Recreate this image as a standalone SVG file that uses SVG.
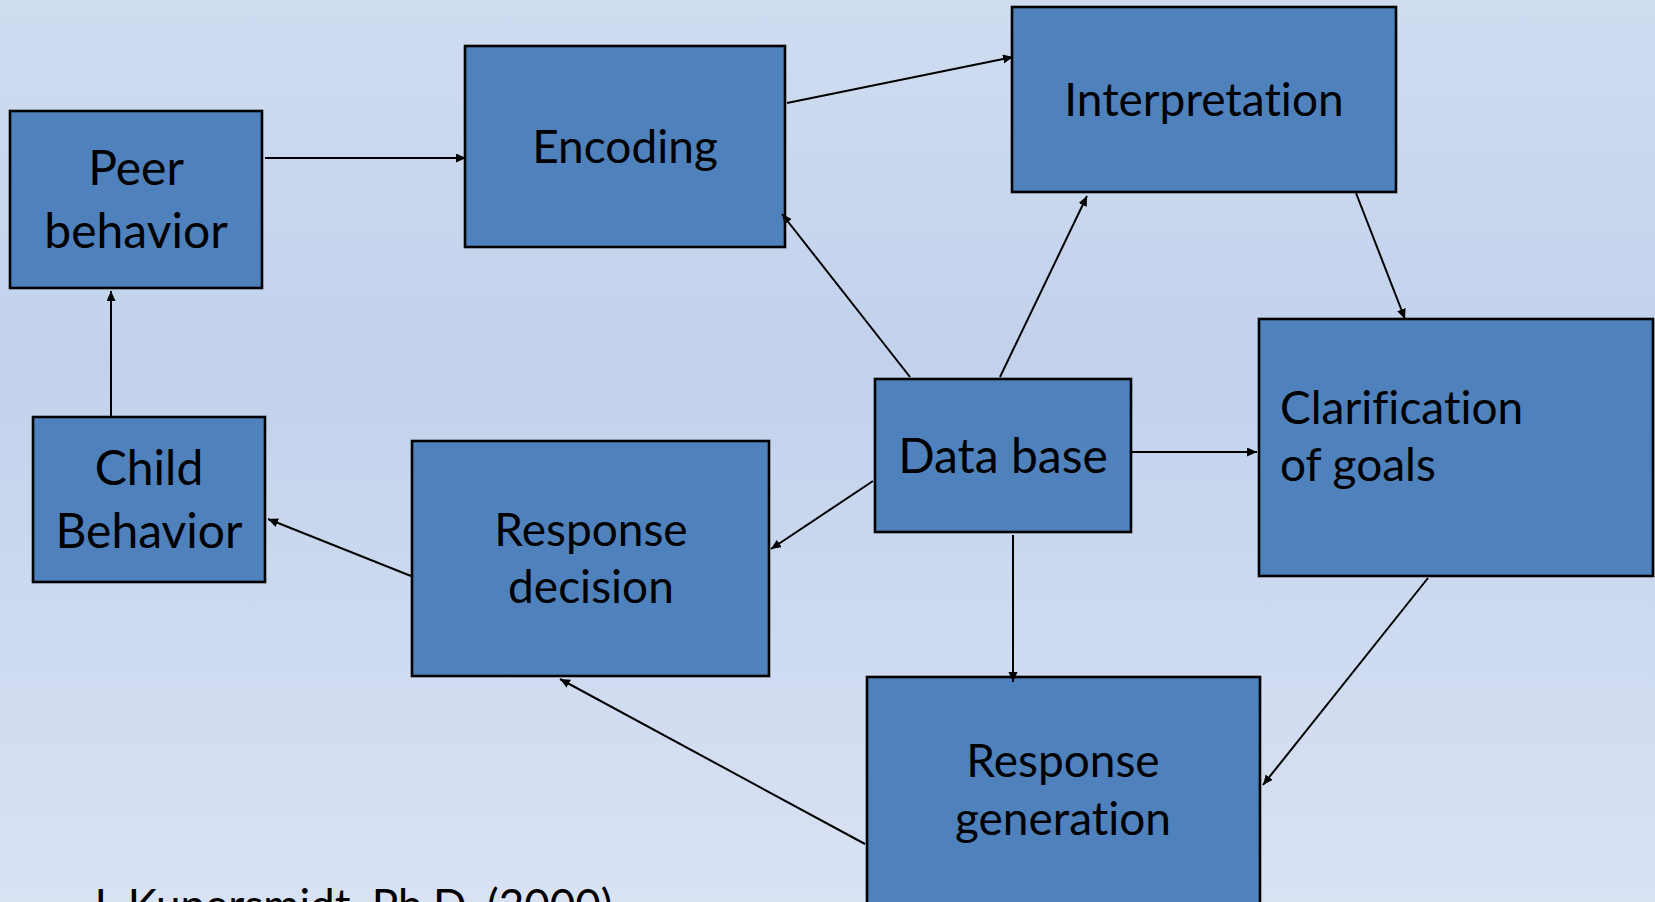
<svg xmlns="http://www.w3.org/2000/svg" width="1655" height="902" viewBox="0 0 1655 902">
<defs>
<linearGradient id="bg" x1="0" y1="0" x2="0" y2="1">
<stop offset="0" stop-color="#d0dcf0"/>
<stop offset="0.4" stop-color="#c2d2ec"/>
<stop offset="1" stop-color="#d9e2f3"/>
</linearGradient>
<marker id="ah" markerUnits="userSpaceOnUse" markerWidth="12" markerHeight="10" refX="10" refY="4.5" orient="auto">
<path d="M0,0 L10,4.5 L0,9 Z" fill="#000"/>
</marker>
<style>
.box{fill:#4f81bd;stroke:#000;stroke-width:2.6}
.lbl{font-family:Lato,"Open Sans","Liberation Sans",sans-serif;font-size:46px;fill:#000;font-variant-ligatures:none;font-feature-settings:"liga" 0,"dlig" 0}
.c{text-anchor:middle}
.con line{stroke:#000;stroke-width:2;marker-end:url(#ah)}
</style>
</defs>
<rect x="0" y="0" width="1655" height="902" fill="url(#bg)"/>
<g id="peer-behavior">
<rect class="box" x="10" y="111" width="252" height="177"/>
<text class="lbl c" x="136" y="185" style="font-size:48px">Peer</text>
<text class="lbl c" x="136" y="248" style="font-size:48px">behavior</text>
</g>
<g id="encoding">
<rect class="box" x="465" y="46" width="320" height="201"/>
<text class="lbl c" x="625" y="163">Encoding</text>
</g>
<g id="interpretation">
<rect class="box" x="1012" y="7" width="384" height="185"/>
<text class="lbl c" x="1204" y="116">Interpretation</text>
</g>
<g id="data-base">
<rect class="box" x="875" y="379" width="256" height="153"/>
<text class="lbl c" x="1003" y="473" style="font-size:48px">Data base</text>
</g>
<g id="clarification-of-goals">
<rect class="box" x="1259" y="319" width="394" height="257"/>
<text class="lbl" x="1280" y="424">Clarification</text>
<text class="lbl" x="1280" y="481">of goals</text>
</g>
<g id="child-behavior">
<rect class="box" x="33" y="417" width="232" height="165"/>
<text class="lbl c" x="149" y="485" style="font-size:48px">Child</text>
<text class="lbl c" x="149" y="548" style="font-size:48px">Behavior</text>
</g>
<g id="response-decision">
<rect class="box" x="412" y="441" width="357" height="235"/>
<text class="lbl c" x="591" y="546">Response</text>
<text class="lbl c" x="591" y="603">decision</text>
</g>
<g id="response-generation">
<rect class="box" x="867" y="677" width="393" height="260"/>
<text class="lbl c" x="1063" y="777">Response</text>
<text class="lbl c" x="1063" y="835">generation</text>
</g>
<g id="connectors" class="con">
<line x1="265" y1="158" x2="466" y2="158"/>
<line x1="787" y1="103" x2="1013" y2="57"/>
<line x1="1000" y1="377" x2="1087" y2="196"/>
<line x1="910" y1="377" x2="782" y2="214"/>
<line x1="1356" y1="193" x2="1405" y2="319"/>
<line x1="1130" y1="452" x2="1257" y2="452"/>
<line x1="873" y1="481" x2="771" y2="549"/>
<line x1="1013" y1="535" x2="1013" y2="682"/>
<line x1="1428" y1="578" x2="1263" y2="785"/>
<line x1="865" y1="844" x2="560" y2="679"/>
<line x1="411" y1="576" x2="268" y2="519"/>
<line x1="111" y1="417" x2="111" y2="291"/>
</g>
<text id="citation" class="lbl" x="88" y="921" style="font-size:44px">J. Kupersmidt, Ph.D. (2000)</text>
</svg>
